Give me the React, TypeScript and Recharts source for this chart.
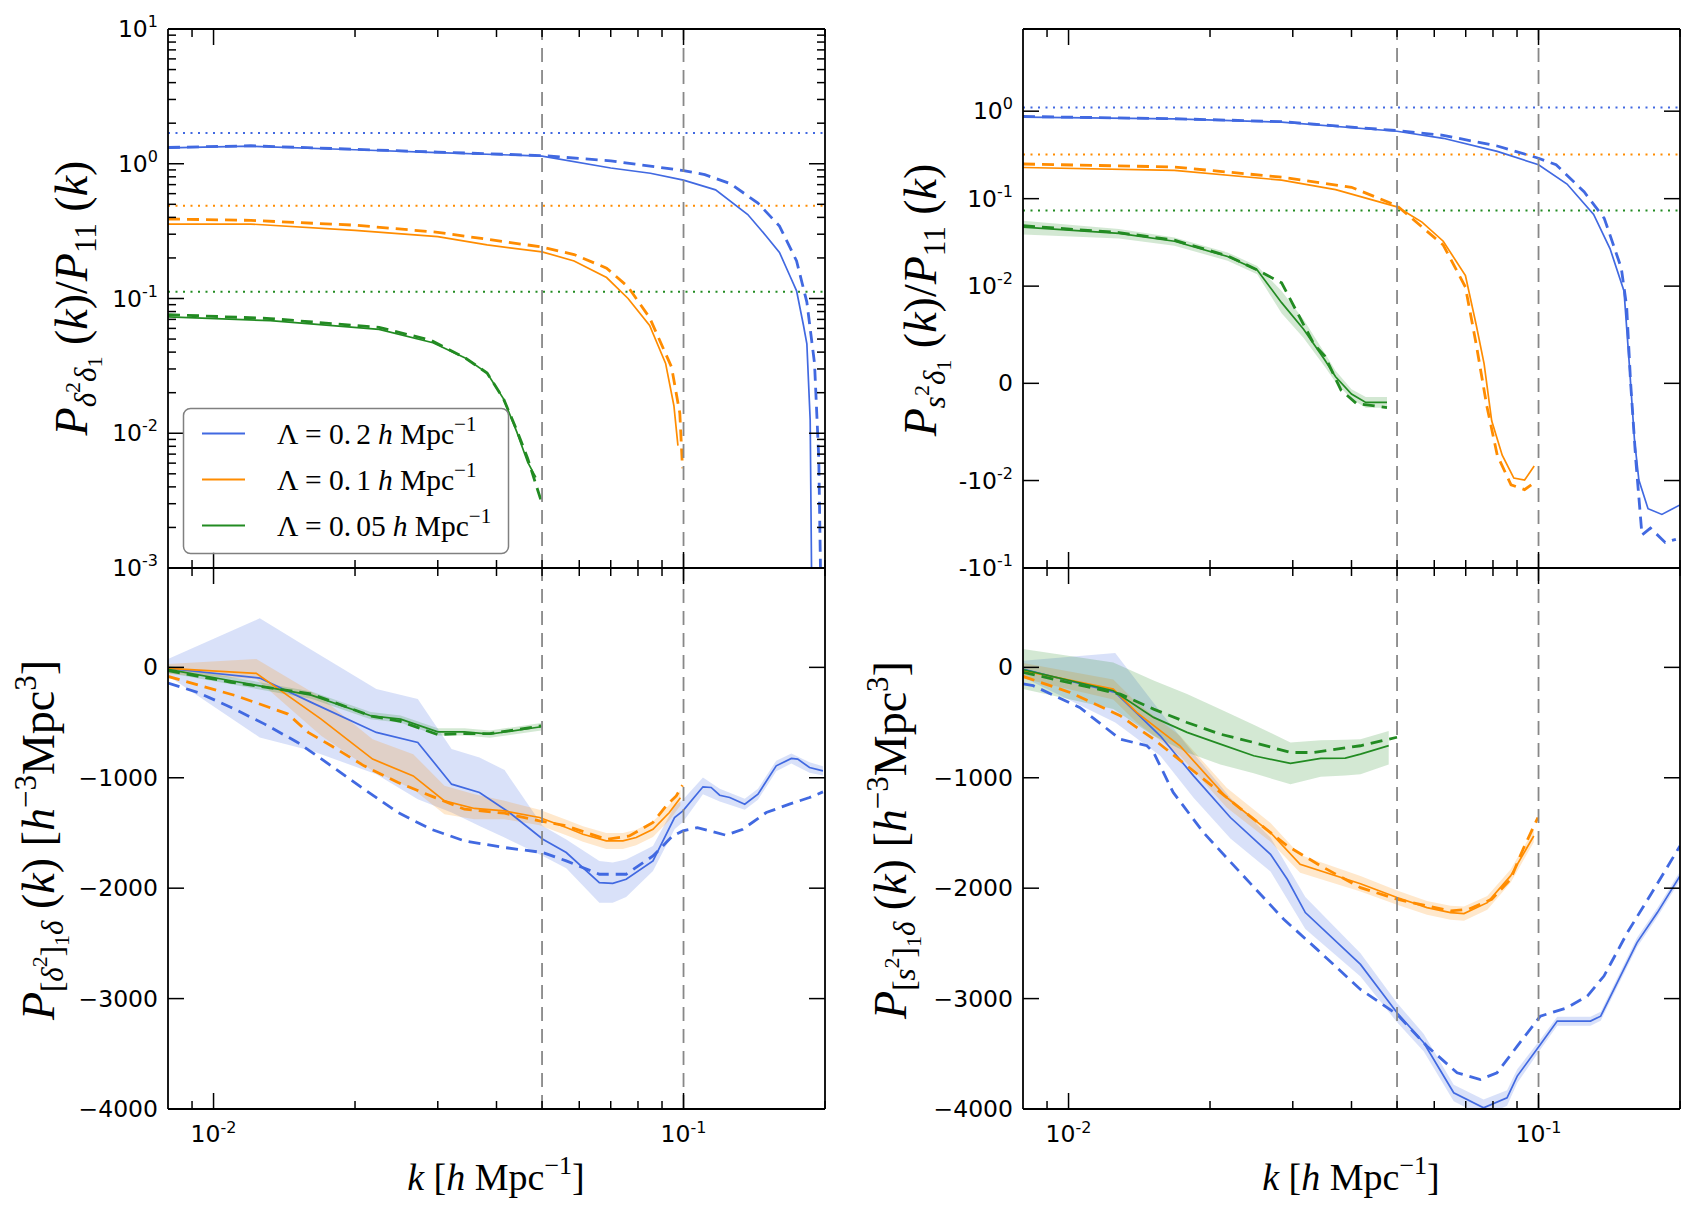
import React from "react";
import { ComposedChart, Line, Area, XAxis, YAxis, ReferenceLine } from "recharts";

const BLUE = "#4169e1";
const ORANGE = "#ff8c00";
const GREEN = "#228b22";
const SANS = "DejaVu Sans";
const SERIF = "Liberation Serif";

// k axis (shared by all panels)
const K_DOMAIN: [number, number] = [0.008, 0.2];
const K_TICKS = [0.009, 0.01, 0.02, 0.03, 0.04, 0.05, 0.06, 0.07, 0.08, 0.09, 0.1, 0.2];
const K_MAJOR = [0.01, 0.1];
const K_MAJOR_SUP = ["-2", "-1"];
const K_CUTS = [0.05, 0.1];

// ---------- top left: P_{d2 d1}/P11 (log) ----------
const TL_BLUE_K = [0.008, 0.012, 0.02, 0.03, 0.05, 0.07, 0.085, 0.1, 0.117, 0.137, 0.15, 0.16, 0.168, 0.174, 0.18, 0.183, 0.186, 0.188];
const TL_BLUE_V = [1.31, 1.35, 1.27, 1.21, 1.14, 0.93, 0.85, 0.755, 0.64, 0.42, 0.29, 0.22, 0.15, 0.114, 0.063, 0.046, 0.0125, 0.0002];
const TL_BLUE_DASH_K = [0.008, 0.012, 0.02, 0.03, 0.05, 0.07, 0.1, 0.111, 0.126, 0.144, 0.16, 0.174, 0.183, 0.19, 0.194, 0.197];
const TL_BLUE_DASH_V = [1.32, 1.36, 1.28, 1.22, 1.15, 1.05, 0.89, 0.83, 0.71, 0.51, 0.345, 0.19, 0.094, 0.033, 0.0065, 0.0002];
const TL_ORANGE_K = [0.008, 0.012, 0.02, 0.03, 0.0382, 0.05, 0.0585, 0.0686, 0.0762, 0.0847, 0.0916, 0.0954, 0.0973];
const TL_ORANGE_V = [0.357, 0.357, 0.32, 0.288, 0.25, 0.222, 0.19, 0.143, 0.1, 0.063, 0.033, 0.016, 0.0081];
const TL_ORANGE_DASH_K = [0.008, 0.012, 0.02, 0.03, 0.05, 0.0585, 0.0686, 0.0762, 0.0847, 0.0943, 0.0982, 0.0995];
const TL_ORANGE_DASH_V = [0.389, 0.38, 0.35, 0.31, 0.241, 0.212, 0.168, 0.122, 0.072, 0.031, 0.0141, 0.0055];
const TL_GREEN_K = [0.008, 0.0132, 0.0225, 0.0293, 0.0344, 0.0382, 0.0414, 0.0442, 0.0466, 0.0485];
const TL_GREEN_V = [0.073, 0.0685, 0.059, 0.047, 0.036, 0.028, 0.018, 0.0102, 0.0061, 0.0047];
const TL_GREEN_DASH_K = [0.008, 0.0132, 0.0225, 0.029, 0.0344, 0.0382, 0.0414, 0.0442, 0.0466, 0.05];
const TL_GREEN_DASH_V = [0.076, 0.071, 0.061, 0.049, 0.036, 0.028, 0.018, 0.0105, 0.0065, 0.003];
const TL_DOTTED = [1.69, 0.488, 0.112];
const TL_DECADES = [0.001, 0.01, 0.1, 1];
const TL_MANTISSA = [1, 2, 3, 4, 5, 6, 7, 8, 9];

// ---------- top right: P_{s2 d1}/P11 (symlog) ----------
const TR_BLUE_K = [0.008, 0.0168, 0.0284, 0.05, 0.0627, 0.0817, 0.1, 0.115, 0.131, 0.142, 0.152, 0.156, 0.16, 0.1635, 0.171, 0.183, 0.2];
const TR_BLUE_V = [0.857, 0.815, 0.75, 0.59, 0.49, 0.347, 0.244, 0.147, 0.066, 0.0267, 0.0095, 0.002, -0.0058, -0.00995, -0.021, -0.0244, -0.019];
const TR_BLUE_DASH_K = [0.008, 0.0168, 0.0284, 0.05, 0.0627, 0.0817, 0.1, 0.109, 0.125, 0.138, 0.15, 0.154, 0.157, 0.161, 0.166, 0.173, 0.186, 0.196];
const TR_BLUE_DASH_V = [0.87, 0.82, 0.76, 0.6, 0.53, 0.4, 0.29, 0.244, 0.12, 0.0596, 0.0161, 0.0079, 0.0001, -0.0078, -0.042, -0.035, -0.051, -0.047];
const TR_ORANGE_K = [0.008, 0.0168, 0.0284, 0.037, 0.05, 0.0565, 0.0627, 0.0699, 0.0737, 0.0766, 0.0795, 0.0837, 0.0886, 0.0934, 0.0979];
const TR_ORANGE_V = [0.227, 0.21, 0.163, 0.127, 0.0805, 0.054, 0.0326, 0.0132, 0.006, 0.002, -0.00385, -0.0074, -0.00975, -0.00995, -0.0085];
const TR_ORANGE_DASH_K = [0.008, 0.0168, 0.0284, 0.04, 0.05, 0.0627, 0.0699, 0.0737, 0.0776, 0.0817, 0.0874, 0.0934, 0.0965];
const TR_ORANGE_DASH_V = [0.249, 0.23, 0.176, 0.135, 0.083, 0.0295, 0.0099, 0.004, -0.0023, -0.0074, -0.0112, -0.0127, -0.0112];
const TR_GREEN_K = [0.008, 0.0128, 0.0168, 0.0218, 0.0252, 0.0284, 0.0316, 0.0351, 0.037, 0.04, 0.0429, 0.0476];
const TR_GREEN_V = [0.0473, 0.04, 0.0326, 0.0218, 0.0153, 0.0083, 0.0056, 0.0024, 0.00067, -0.0011, -0.00196, -0.00196];
const TR_GREEN_LO = [0.039, 0.035, 0.029, 0.0195, 0.0137, 0.0072, 0.0047, 0.0017, 0.0001, -0.0016, -0.0025, -0.0025];
const TR_GREEN_HI = [0.056, 0.045, 0.036, 0.0243, 0.017, 0.0095, 0.0066, 0.0031, 0.0013, -0.0006, -0.0014, -0.0014];
const TR_GREEN_DASH_K = [0.008, 0.0128, 0.0168, 0.0218, 0.0252, 0.0284, 0.0333, 0.0351, 0.038, 0.041, 0.0476];
const TR_GREEN_DASH_V = [0.049, 0.041, 0.0335, 0.0222, 0.0153, 0.0109, 0.004, 0.0028, -0.0007, -0.00208, -0.0025];
const TR_DOTTED = [1.1, 0.32, 0.073];
const TR_Y_VALUES = [-0.1, -0.01, 0, 0.01, 0.1, 1];
const TR_Y_LABELS: [string, string][] = [["-10", "-1"], ["-10", "-2"], ["0", ""], ["10", "-2"], ["10", "-1"], ["10", "0"]];
const TR_Y_MAX = 8.7;

// ---------- bottom left: P_[d2]1 d ----------
const BL_BLUE_K = [0.008, 0.01254, 0.01614, 0.0222, 0.0272, 0.0321, 0.0368, 0.0426, 0.0502, 0.0563, 0.0662, 0.0707, 0.0755, 0.0861, 0.0957, 0.0997, 0.11, 0.1145, 0.1194, 0.1254, 0.135, 0.144, 0.1575, 0.1696, 0.175, 0.1854, 0.198];
const BL_BLUE_V = [-10, -97, -317, -589, -680, -1058, -1133, -1315, -1557, -1677, -1949, -1956, -1919, -1753, -1360, -1300, -1082, -1088, -1158, -1179, -1239, -1149, -892, -825, -831, -907, -937];
const BL_BLUE_BAND_K = [0.008, 0.01254, 0.01614, 0.0222, 0.0272, 0.0321, 0.0368, 0.0416, 0.0502, 0.0563, 0.0662, 0.0707, 0.0755, 0.0861, 0.0957, 0.0997, 0.11, 0.1194, 0.135, 0.144, 0.1575, 0.1696, 0.1854, 0.198];
const BL_BLUE_HI = [75, 444, 160, -197, -287, -740, -816, -930, -1436, -1560, -1753, -1768, -1740, -1617, -1255, -1200, -997, -1100, -1190, -1100, -845, -780, -860, -895];
const BL_BLUE_LO = [-76, -635, -756, -967, -1194, -1315, -1436, -1541, -1708, -1820, -2131, -2131, -2080, -1844, -1466, -1400, -1149, -1215, -1290, -1200, -940, -870, -955, -980];
const BL_BLUE_DASH_K = [0.008, 0.00926, 0.0109, 0.01285, 0.0151, 0.0178, 0.0209, 0.0247, 0.029, 0.0342, 0.0416, 0.0502, 0.0563, 0.0662, 0.0755, 0.0861, 0.0948, 0.0997, 0.107, 0.123, 0.1337, 0.15, 0.168, 0.1854, 0.198];
const BL_BLUE_DASH_V = [-142, -227, -363, -514, -680, -892, -1103, -1315, -1466, -1572, -1632, -1677, -1753, -1874, -1874, -1708, -1527, -1481, -1451, -1520, -1466, -1315, -1239, -1179, -1128];
const BL_ORANGE_K = [0.008, 0.01233, 0.01694, 0.0218, 0.0266, 0.031, 0.0359, 0.0416, 0.0494, 0.0563, 0.0611, 0.0685, 0.0743, 0.0793, 0.0861, 0.0933, 0.0985];
const BL_ORANGE_V = [-9, -54, -469, -831, -983, -1209, -1278, -1300, -1360, -1451, -1511, -1572, -1572, -1541, -1466, -1315, -1180];
const BL_ORANGE_HI = [30, 75, -272, -650, -786, -1073, -1150, -1209, -1290, -1380, -1440, -1500, -1500, -1470, -1395, -1245, -1110];
const BL_ORANGE_LO = [-61, -106, -620, -937, -1103, -1330, -1375, -1375, -1430, -1520, -1580, -1645, -1645, -1612, -1537, -1385, -1250];
const BL_ORANGE_DASH_K = [0.008, 0.01117, 0.0144, 0.0159, 0.0178, 0.0209, 0.0247, 0.029, 0.0342, 0.0416, 0.0494, 0.0563, 0.0685, 0.0767, 0.0861, 0.0918, 0.0965, 0.0995];
const BL_ORANGE_DASH_V = [-82, -257, -423, -589, -710, -892, -1043, -1164, -1285, -1321, -1390, -1436, -1557, -1527, -1405, -1255, -1164, -1067];
const BL_GREEN_K = [0.008, 0.0109, 0.01614, 0.0216, 0.025, 0.03, 0.0342, 0.0387, 0.0498];
const BL_GREEN_V = [-18, -121, -251, -438, -469, -584, -584, -605, -538];
const BL_GREEN_HI = [15, -88, -218, -405, -436, -551, -551, -572, -505];
const BL_GREEN_LO = [-51, -154, -284, -471, -502, -617, -617, -638, -571];
const BL_GREEN_DASH_V = [-30, -135, -240, -440, -490, -609, -600, -600, -530];

// ---------- bottom right: P_[s2]1 d ----------
const BR_BLUE_K = [0.008, 0.01257, 0.01567, 0.01845, 0.0221, 0.0269, 0.0292, 0.0319, 0.0418, 0.05, 0.057, 0.066, 0.0764, 0.0857, 0.0901, 0.1009, 0.1096, 0.129, 0.1356, 0.162, 0.179, 0.2];
const BR_BLUE_V = [-15, -227, -620, -983, -1360, -1693, -1919, -2221, -2690, -3128, -3400, -3853, -3989, -3898, -3702, -3415, -3204, -3204, -3159, -2493, -2221, -1889];
const BR_BLUE_BAND_K = [0.008, 0.01257, 0.01567, 0.01845, 0.0221, 0.0269, 0.0319, 0.0418, 0.05, 0.057, 0.066, 0.0764, 0.0857, 0.0901, 0.1009, 0.1096, 0.129, 0.1356, 0.162, 0.179, 0.2];
const BR_BLUE_HI = [60, 130, -400, -780, -1180, -1540, -2080, -2590, -3040, -3320, -3780, -3915, -3830, -3640, -3370, -3165, -3165, -3120, -2450, -2180, -1850];
const BR_BLUE_LO = [-90, -500, -800, -1180, -1550, -1850, -2370, -2800, -3215, -3480, -3930, -4070, -3970, -3765, -3460, -3245, -3245, -3200, -2535, -2260, -1930];
const BR_BLUE_DASH_K = [0.008, 0.00841, 0.01056, 0.01288, 0.01468, 0.01517, 0.0167, 0.01937, 0.0232, 0.0287, 0.0338, 0.0418, 0.05, 0.0579, 0.0671, 0.0752, 0.0816, 0.0901, 0.1009, 0.115, 0.127, 0.1378, 0.1545, 0.176, 0.2];
const BR_BLUE_DASH_V = [-150, -166, -363, -650, -710, -771, -1133, -1496, -1859, -2282, -2554, -2917, -3143, -3431, -3672, -3733, -3672, -3431, -3159, -3083, -2977, -2796, -2403, -2010, -1617];
const BR_ORANGE_K = [0.008, 0.01245, 0.01396, 0.01726, 0.0217, 0.0269, 0.0311, 0.0418, 0.05, 0.0579, 0.065, 0.0694, 0.0778, 0.0872, 0.0977];
const BR_ORANGE_V = [-30, -197, -408, -710, -1179, -1496, -1783, -1960, -2085, -2176, -2221, -2230, -2131, -1889, -1527];
const BR_ORANGE_HI = [40, -110, -320, -620, -1090, -1410, -1700, -1890, -2020, -2115, -2160, -2165, -2070, -1830, -1470];
const BR_ORANGE_LO = [-100, -290, -500, -800, -1270, -1580, -1860, -2030, -2150, -2240, -2285, -2295, -2195, -1950, -1585];
const BR_ORANGE_DASH_K = [0.008, 0.01007, 0.01288, 0.01517, 0.01787, 0.02104, 0.02477, 0.0292, 0.0344, 0.0418, 0.05, 0.0579, 0.065, 0.0711, 0.0795, 0.0872, 0.0927, 0.0997];
const BR_ORANGE_DASH_V = [-82, -227, -438, -650, -892, -1133, -1375, -1617, -1798, -1995, -2100, -2160, -2206, -2190, -2100, -1919, -1647, -1360];
const BR_GREEN_K = [0.008, 0.01245, 0.01517, 0.01787, 0.02104, 0.02477, 0.02966, 0.0344, 0.0388, 0.0418, 0.048];
const BR_GREEN_V = [-21, -212, -453, -589, -695, -801, -870, -825, -822, -786, -709];
const BR_GREEN_HI = [166, 45, -120, -242, -380, -520, -680, -660, -655, -650, -576];
const BR_GREEN_LO = [-197, -378, -620, -771, -880, -960, -1058, -990, -980, -967, -880];
const BR_GREEN_DASH_K = [0.008, 0.01288, 0.01517, 0.01787, 0.02104, 0.02477, 0.02966, 0.0332, 0.0418, 0.05];
const BR_GREEN_DASH_V = [-45, -242, -378, -499, -605, -680, -771, -771, -710, -633];

const LIN_TICKS = [-4000, -3000, -2000, -1000, 0];
const LIN_DOMAIN: [number, number] = [-4000, 900];

const LEGEND = [
  { color: BLUE, num: ["0.", "2"] },
  { color: ORANGE, num: ["0.", "1"] },
  { color: GREEN, num: ["0.", "05"] },
];

// matplotlib style symlog, linthresh 0.01, linscale 1
const LINTHRESH = 0.01;
const LINSCALE = 1 / (1 - 1 / 10);
const symlog = (v: number) => {
  const a = Math.abs(v);
  if (a <= LINTHRESH) return (v / LINTHRESH) * LINSCALE;
  return Math.sign(v) * (LINSCALE + Math.log10(a / LINTHRESH));
};
const ident = (v: number) => v;

const AXL = 160;
const AXR = 20;
const AXT = 20;
const AXB = 70;
const MAJOR_LEN = 16;
const MINOR_LEN = 8;

type Curve = { k: number[]; v: number[]; color: string; dash?: boolean };
type Band = { k: number[]; lo: number[]; hi: number[]; color: string };
type PanelProps = {
  left: number;
  top: number;
  width: number;
  height: number;
  yScale: "log" | "linear";
  yDomain: [number, number];
  yTicks: number[];
  isMajorY: (v: number) => boolean;
  yLabel: (v: number) => [string, string];
  curves: Curve[];
  bands: Band[];
  dotted: number[];
  fy: (v: number) => number;
  showX: boolean;
};

const near = (a: number, b: number) => Math.abs(a - b) < 1e-9;

function Panel(p: PanelProps) {
  const W = AXL + p.width + AXR;
  const H = AXT + p.height + AXB;

  const xTick = (side: "top" | "bottom") => (t: any) => {
    const v = t.payload.value;
    const mi = K_MAJOR.findIndex((m) => near(m, v));
    const len = mi >= 0 ? MAJOR_LEN : MINOR_LEN;
    const d = side === "bottom" ? -len : len;
    return (
      <g>
        <line x1={t.x} x2={t.x} y1={t.y} y2={t.y + d} stroke="#000" strokeWidth={1.5} />
        {side === "bottom" && p.showX && mi >= 0 ? (
          <text x={t.x} y={t.y + 33} textAnchor="middle" fontFamily={SANS} fontSize={23.5} fill="#000">
            10
            <tspan fontSize={16} dy={-9}>
              {K_MAJOR_SUP[mi]}
            </tspan>
          </text>
        ) : null}
      </g>
    );
  };

  const yTick = (side: "left" | "right") => (t: any) => {
    const v = t.payload.value;
    const major = p.isMajorY(v);
    const len = major ? MAJOR_LEN : MINOR_LEN;
    const d = side === "left" ? len : -len;
    const [main, sup] = major ? p.yLabel(v) : ["", ""];
    return (
      <g>
        <line x1={t.x} x2={t.x + d} y1={t.y} y2={t.y} stroke="#000" strokeWidth={1.5} />
        {side === "left" && major ? (
          <text x={t.x - 10} y={t.y + 8} textAnchor="end" fontFamily={SANS} fontSize={23.5} fill="#000">
            {main}
            {sup ? (
              <tspan fontSize={16} dy={-10}>
                {sup}
              </tspan>
            ) : null}
          </text>
        ) : null}
      </g>
    );
  };

  const axisLine = { stroke: "#000", strokeWidth: 1.8 };
  const dottedColors = [BLUE, ORANGE, GREEN];

  return (
    <div style={{ position: "absolute", left: p.left - AXL, top: p.top - AXT }}>
      <ComposedChart width={W} height={H} margin={{ top: 0, right: 0, bottom: 0, left: 0 }}>
        <XAxis
          xAxisId="b"
          dataKey="k"
          type="number"
          scale="log"
          domain={K_DOMAIN}
          allowDataOverflow
          ticks={K_TICKS}
          interval={0}
          height={AXB}
          tickLine={false}
          tickSize={0}
          tickMargin={0}
          tick={xTick("bottom")}
          axisLine={axisLine}
        />
        <XAxis
          xAxisId="t"
          orientation="top"
          dataKey="k"
          type="number"
          scale="log"
          domain={K_DOMAIN}
          allowDataOverflow
          ticks={K_TICKS}
          interval={0}
          height={AXT}
          tickLine={false}
          tickSize={0}
          tickMargin={0}
          tick={xTick("top")}
          axisLine={axisLine}
        />
        <YAxis
          yAxisId="l"
          type="number"
          scale={p.yScale}
          domain={p.yDomain}
          allowDataOverflow
          ticks={p.yTicks}
          interval={0}
          width={AXL}
          tickLine={false}
          tickSize={0}
          tickMargin={0}
          tick={yTick("left")}
          axisLine={axisLine}
        />
        <YAxis
          yAxisId="r"
          orientation="right"
          type="number"
          scale={p.yScale}
          domain={p.yDomain}
          allowDataOverflow
          ticks={p.yTicks}
          interval={0}
          width={AXR}
          tickLine={false}
          tickSize={0}
          tickMargin={0}
          tick={yTick("right")}
          axisLine={axisLine}
        />
        {p.bands.map((b, i) => (
          <Area
            key={"band" + i}
            xAxisId="b"
            yAxisId="l"
            type="linear"
            data={b.k.map((k, j) => ({ k, r: [p.fy(b.lo[j]), p.fy(b.hi[j])] }))}
            dataKey="r"
            stroke="none"
            fill={b.color}
            fillOpacity={0.2}
            isAnimationActive={false}
          />
        ))}
        {p.dotted.map((y, i) => (
          <ReferenceLine
            key={"dot" + i}
            xAxisId="b"
            yAxisId="l"
            y={p.fy(y)}
            stroke={dottedColors[i]}
            strokeWidth={2}
            strokeDasharray="2 5.5"
          />
        ))}
        {p.curves.map((c, i) => (
          <Line
            key={"curve" + i}
            xAxisId="b"
            yAxisId="l"
            type="linear"
            data={c.k.map((k, j) => ({ k, v: p.fy(c.v[j]) }))}
            dataKey="v"
            stroke={c.color}
            strokeWidth={c.dash ? 2.8 : 1.7}
            strokeDasharray={c.dash ? "12 7" : undefined}
            dot={false}
            activeDot={false}
            isAnimationActive={false}
          />
        ))}
        {K_CUTS.map((x) => (
          <ReferenceLine
            key={"cut" + x}
            xAxisId="b"
            yAxisId="l"
            x={x}
            stroke="#888"
            strokeWidth={1.8}
            strokeDasharray="14 8"
          />
        ))}
      </ComposedChart>
    </div>
  );
}

const SUB = 31;
const SUBSUB = 22;

function YLabelTop({ x, y, s }: { x: number; y: number; s: boolean }) {
  return (
    <text transform={`translate(${x},${y}) rotate(-90)`} textAnchor="middle" fontFamily={SERIF} fontSize={46} fill="#000">
      <tspan fontStyle="italic">P</tspan>
      <tspan fontSize={SUB} fontStyle="italic" dy={9}>
        {s ? "s" : "δ"}
      </tspan>
      <tspan fontSize={SUBSUB} dy={-16}>2</tspan>
      <tspan fontSize={SUB} fontStyle="italic" dy={16}>δ</tspan>
      <tspan fontSize={SUBSUB} dy={6}>1</tspan>
      <tspan dy={-15}> (</tspan>
      <tspan fontStyle="italic">k</tspan>
      <tspan>)/</tspan>
      <tspan fontStyle="italic">P</tspan>
      <tspan fontSize={SUB} dy={9}>11</tspan>
      <tspan dy={-9}> (</tspan>
      <tspan fontStyle="italic">k</tspan>
      <tspan>)</tspan>
    </text>
  );
}

function YLabelBottom({ x, y, s }: { x: number; y: number; s: boolean }) {
  return (
    <text transform={`translate(${x},${y}) rotate(-90)`} textAnchor="middle" fontFamily={SERIF} fontSize={46} fill="#000">
      <tspan fontStyle="italic">P</tspan>
      <tspan fontSize={SUB} dy={9}>[</tspan>
      <tspan fontSize={SUB} fontStyle="italic">{s ? "s" : "δ"}</tspan>
      <tspan fontSize={SUBSUB} dy={-16}>2</tspan>
      <tspan fontSize={SUB} dy={16}>]</tspan>
      <tspan fontSize={SUBSUB} dy={6}>1</tspan>
      <tspan fontSize={SUB} fontStyle="italic" dy={-6}>δ</tspan>
      <tspan dy={-9}> (</tspan>
      <tspan fontStyle="italic">k</tspan>
      <tspan>) [</tspan>
      <tspan fontStyle="italic">h</tspan>
      <tspan fontSize={SUB} dy={-18}>−3</tspan>
      <tspan dy={18}>Mpc</tspan>
      <tspan fontSize={SUB} dy={-18}>3</tspan>
      <tspan dy={18}>]</tspan>
    </text>
  );
}

function XLabel({ x, y }: { x: number; y: number }) {
  return (
    <text x={x} y={y} textAnchor="middle" fontFamily={SERIF} fontSize={38} fill="#000">
      <tspan fontStyle="italic">k</tspan>
      <tspan> [</tspan>
      <tspan fontStyle="italic">h</tspan>
      <tspan> Mpc</tspan>
      <tspan fontSize={26} dy={-16}>−1</tspan>
      <tspan dy={16}>]</tspan>
    </text>
  );
}

const tlTicks = TL_DECADES.flatMap((d) => TL_MANTISSA.map((m) => m * d)).concat([10]);
const isDecade = (v: number) => near(Math.log10(v), Math.round(Math.log10(v)));
const decadeLabel = (v: number): [string, string] => {
  const e = Math.round(Math.log10(v));
  return ["10", e < 0 ? "-" + Math.abs(e) : String(e)];
};
const linLabel = (v: number): [string, string] => [v < 0 ? "−" + Math.abs(v) : String(v), ""];
const trLabel = (v: number): [string, string] => {
  const i = TR_Y_VALUES.findIndex((t) => near(symlog(t), v));
  return i >= 0 ? TR_Y_LABELS[i] : ["", ""];
};

export default function App() {
  const left1 = 168;
  const left2 = 1023;
  const pw = 657;
  const topT = 29;
  const hT = 539;
  const topB = 568;
  const hB = 541;

  return (
    <div style={{ position: "absolute", left: 0, top: 0, width: 1695, height: 1214, background: "#fff", overflow: "hidden" }}>
      <Panel
        left={left1}
        top={topT}
        width={pw}
        height={hT}
        yScale="log"
        yDomain={[0.001, 10]}
        yTicks={tlTicks}
        isMajorY={isDecade}
        yLabel={decadeLabel}
        fy={ident}
        dotted={TL_DOTTED}
        bands={[]}
        curves={[
          { k: TL_BLUE_K, v: TL_BLUE_V, color: BLUE },
          { k: TL_BLUE_DASH_K, v: TL_BLUE_DASH_V, color: BLUE, dash: true },
          { k: TL_ORANGE_K, v: TL_ORANGE_V, color: ORANGE },
          { k: TL_ORANGE_DASH_K, v: TL_ORANGE_DASH_V, color: ORANGE, dash: true },
          { k: TL_GREEN_K, v: TL_GREEN_V, color: GREEN },
          { k: TL_GREEN_DASH_K, v: TL_GREEN_DASH_V, color: GREEN, dash: true },
        ]}
        showX={false}
      />
      <Panel
        left={left2}
        top={topT}
        width={pw}
        height={hT}
        yScale="linear"
        yDomain={[symlog(-0.1), symlog(TR_Y_MAX)]}
        yTicks={TR_Y_VALUES.map(symlog)}
        isMajorY={() => true}
        yLabel={trLabel}
        fy={symlog}
        dotted={TR_DOTTED}
        bands={[{ k: TR_GREEN_K, lo: TR_GREEN_LO, hi: TR_GREEN_HI, color: GREEN }]}
        curves={[
          { k: TR_BLUE_K, v: TR_BLUE_V, color: BLUE },
          { k: TR_BLUE_DASH_K, v: TR_BLUE_DASH_V, color: BLUE, dash: true },
          { k: TR_ORANGE_K, v: TR_ORANGE_V, color: ORANGE },
          { k: TR_ORANGE_DASH_K, v: TR_ORANGE_DASH_V, color: ORANGE, dash: true },
          { k: TR_GREEN_K, v: TR_GREEN_V, color: GREEN },
          { k: TR_GREEN_DASH_K, v: TR_GREEN_DASH_V, color: GREEN, dash: true },
        ]}
        showX={false}
      />
      <Panel
        left={left1}
        top={topB}
        width={pw}
        height={hB}
        yScale="linear"
        yDomain={LIN_DOMAIN}
        yTicks={LIN_TICKS}
        isMajorY={() => true}
        yLabel={linLabel}
        fy={ident}
        dotted={[]}
        bands={[
          { k: BL_BLUE_BAND_K, lo: BL_BLUE_LO, hi: BL_BLUE_HI, color: BLUE },
          { k: BL_ORANGE_K, lo: BL_ORANGE_LO, hi: BL_ORANGE_HI, color: ORANGE },
          { k: BL_GREEN_K, lo: BL_GREEN_LO, hi: BL_GREEN_HI, color: GREEN },
        ]}
        curves={[
          { k: BL_BLUE_K, v: BL_BLUE_V, color: BLUE },
          { k: BL_BLUE_DASH_K, v: BL_BLUE_DASH_V, color: BLUE, dash: true },
          { k: BL_ORANGE_K, v: BL_ORANGE_V, color: ORANGE },
          { k: BL_ORANGE_DASH_K, v: BL_ORANGE_DASH_V, color: ORANGE, dash: true },
          { k: BL_GREEN_K, v: BL_GREEN_V, color: GREEN },
          { k: BL_GREEN_K, v: BL_GREEN_DASH_V, color: GREEN, dash: true },
        ]}
        showX={true}
      />
      <Panel
        left={left2}
        top={topB}
        width={pw}
        height={hB}
        yScale="linear"
        yDomain={LIN_DOMAIN}
        yTicks={LIN_TICKS}
        isMajorY={() => true}
        yLabel={linLabel}
        fy={ident}
        dotted={[]}
        bands={[
          { k: BR_BLUE_BAND_K, lo: BR_BLUE_LO, hi: BR_BLUE_HI, color: BLUE },
          { k: BR_ORANGE_K, lo: BR_ORANGE_LO, hi: BR_ORANGE_HI, color: ORANGE },
          { k: BR_GREEN_K, lo: BR_GREEN_LO, hi: BR_GREEN_HI, color: GREEN },
        ]}
        curves={[
          { k: BR_BLUE_K, v: BR_BLUE_V, color: BLUE },
          { k: BR_BLUE_DASH_K, v: BR_BLUE_DASH_V, color: BLUE, dash: true },
          { k: BR_ORANGE_K, v: BR_ORANGE_V, color: ORANGE },
          { k: BR_ORANGE_DASH_K, v: BR_ORANGE_DASH_V, color: ORANGE, dash: true },
          { k: BR_GREEN_K, v: BR_GREEN_V, color: GREEN },
          { k: BR_GREEN_DASH_K, v: BR_GREEN_DASH_V, color: GREEN, dash: true },
        ]}
        showX={true}
      />
      <svg width={1695} height={1214} style={{ position: "absolute", left: 0, top: 0, pointerEvents: "none" }}>
        <YLabelTop x={87} y={298} s={false} />
        <YLabelTop x={936} y={300} s={true} />
        <YLabelBottom x={54} y={840} s={false} />
        <YLabelBottom x={906} y={840} s={true} />
        <XLabel x={496} y={1190} />
        <XLabel x={1351} y={1190} />
        <rect x={183.5} y={408.5} width={325} height={145} rx={7} fill="#fff" fillOpacity={0.8} stroke="#808080" strokeWidth={1.5} />
        {LEGEND.map((e, i) => {
          const yy = 433.5 + i * 46;
          return (
            <g key={i}>
              <line x1={202} x2={245} y1={yy} y2={yy} stroke={e.color} strokeWidth={2} />
              <text x={277} y={yy + 10} fontFamily={SERIF} fontSize={29.5} fill="#000">
                <tspan>Λ = {e.num[0]}</tspan>
                <tspan dx={5}>{e.num[1]}</tspan>
                <tspan dx={7} fontStyle="italic">h</tspan>
                <tspan> Mpc</tspan>
                <tspan fontSize={21} dy={-13}>−1</tspan>
              </text>
            </g>
          );
        })}
      </svg>
    </div>
  );
}
